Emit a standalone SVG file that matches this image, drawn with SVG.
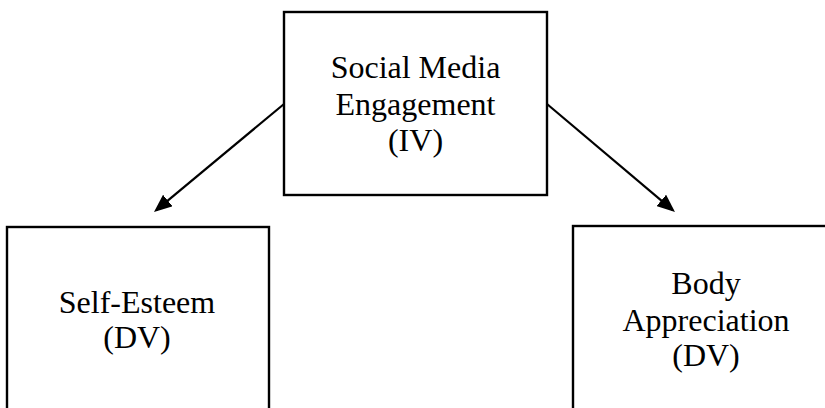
<svg xmlns="http://www.w3.org/2000/svg" width="825" height="408" viewBox="0 0 825 408">
<style>
.box{fill:#fff;stroke:#000;stroke-width:2.4}
.lbl{font-family:"Liberation Serif","Times New Roman",serif;font-size:32px;fill:#000;text-anchor:middle}
.conn{stroke:#000;stroke-width:2.2;fill:none}
</style>
<defs>
<marker id="arr" viewBox="0 0 18 15" refX="15" refY="7.5" markerWidth="18" markerHeight="15" markerUnits="userSpaceOnUse" orient="auto">
<path d="M0,0 L18,7.5 L0,15 z" fill="#000"/>
</marker>
</defs>
<rect width="825" height="408" fill="#fff"/>
<g id="connectors">
<line class="conn" x1="284" y1="104" x2="156.3" y2="210.1" marker-end="url(#arr)"/>
<line class="conn" x1="547" y1="104" x2="672.7" y2="210.1" marker-end="url(#arr)"/>
</g>
<g id="node-iv">
<rect class="box" x="284" y="12" width="263" height="183"/>
<text class="lbl" x="415.5" y="78">Social Media</text>
<text class="lbl" x="415.5" y="115">Engagement</text>
<text class="lbl" x="415.5" y="151">(IV)</text>
</g>
<g id="node-selfesteem">
<rect class="box" x="7" y="227" width="262" height="200"/>
<text class="lbl" x="137" y="313">Self-Esteem</text>
<text class="lbl" x="137" y="348">(DV)</text>
</g>
<g id="node-body">
<rect class="box" x="573" y="226" width="280" height="200"/>
<text class="lbl" x="706" y="294">Body</text>
<text class="lbl" x="706" y="331">Appreciation</text>
<text class="lbl" x="706" y="366">(DV)</text>
</g>
</svg>
